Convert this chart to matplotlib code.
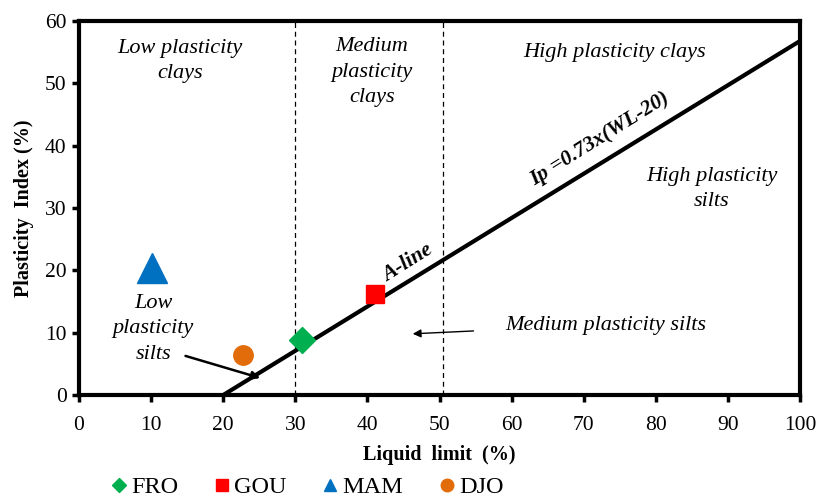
import matplotlib

matplotlib.use("Agg")
import matplotlib.pyplot as plt
from matplotlib.lines import Line2D

plt.rcParams["font.family"] = ["Liberation Serif", "DejaVu Serif"]

INK = "#000000"

# samples: liquid limit / plasticity index
SAMPLES = ["FRO", "GOU", "MAM", "DJO"]
WL = [30.9, 41.0, 10.1, 22.7]
IP = [8.9, 16.2, 20.4, 6.4]
MARKERS = ["D", "s", "^", "o"]
COLORS = ["#00b050", "#ff0000", "#0070c0", "#e36c0a"]
SIZES = [13, 13, 21, 14]

# A-line endpoints and zone limits
A_LINE_X = [20, 100]
A_LINE_Y = [0, 56.8]
ZONE_LIMITS = [30, 50.5]

X_TICKS = list(range(0, 101, 10))
Y_TICKS = list(range(0, 61, 10))

fig = plt.figure(figsize=(8.25, 4.97), dpi=100)
ax = fig.add_axes([0.0958, 0.2052, 0.8739, 0.7525])

for xv in ZONE_LIMITS:
    ax.axvline(xv, color=INK, linewidth=0.9, linestyle=(0, (4, 3)), zorder=1)

ax.plot(A_LINE_X, A_LINE_Y, color=INK, linewidth=3, zorder=2, solid_capstyle="butt")

for x, y, m, c, s in zip(WL, IP, MARKERS, COLORS, SIZES):
    ax.plot([x], [y], marker=m, color=c, markersize=s, linestyle="none", zorder=3)

ax.set_xlim(0, 100)
ax.set_ylim(0, 60)
ax.set_xticks(X_TICKS)
ax.set_yticks(Y_TICKS)
ax.tick_params(direction="out", length=5, width=2.5, labelsize=15.5, colors=INK)
ax.tick_params(axis="x", pad=10)
ax.tick_params(axis="y", pad=4)
for side in ax.spines:
    ax.spines[side].set_linewidth(3)
    ax.spines[side].set_color(INK)

ax.set_xlabel("Liquid  limit  (%)", fontsize=14.5, fontweight="bold", labelpad=7)
ax.set_ylabel("Plasticity  Index (%)", fontsize=14.5, fontweight="bold", labelpad=8)

txt = dict(fontsize=16, style="italic", ha="center", va="center", color=INK,
           linespacing=1.45)
ax.text(14, 53.6, "Low plasticity\nclays", **txt)
ax.text(40.6, 51.8, "Medium\nplasticity\nclays", **txt)
ax.text(74.3, 54.9, "High plasticity clays", **txt)
ax.text(87.8, 33.1, "High plasticity\nsilts", **txt)
ax.text(73, 11.2, "Medium plasticity silts", **txt)
ax.text(10.3, 10.6, "Low\nplasticity\nsilts", **txt)

ax.text(72.3, 41.1, "Ip =0.73x(WL-20)", fontsize=15.5, style="italic", fontweight="bold",
        rotation=32, ha="center", va="center", rotation_mode="anchor")
ax.text(45.6, 21.2, "A-line", fontsize=15.5, style="italic", fontweight="bold",
        rotation=32, ha="center", va="center", rotation_mode="anchor")

arrow = dict(arrowstyle="-|>", color=INK, mutation_scale=12)
ax.annotate("", xy=(25.5, 2.6), xytext=(14.4, 6.4),
            arrowprops=dict(arrow, linewidth=1.8))
ax.annotate("", xy=(45.9, 9.8), xytext=(55.1, 10.3),
            arrowprops=dict(arrow, linewidth=1.0))

handles = [Line2D([], [], marker=m, color=c, linestyle="none", markersize=9)
           for m, c in zip(MARKERS, COLORS)]
handles[0].set_markersize(7)
fig.legend(handles, SAMPLES, loc="center", bbox_to_anchor=(0.37, 0.02), ncol=4,
           frameon=False, fontsize=17.5, handletextpad=0.0, columnspacing=1.3,
           handlelength=1.0)

fig.savefig("out.png", dpi=100, facecolor="white")
